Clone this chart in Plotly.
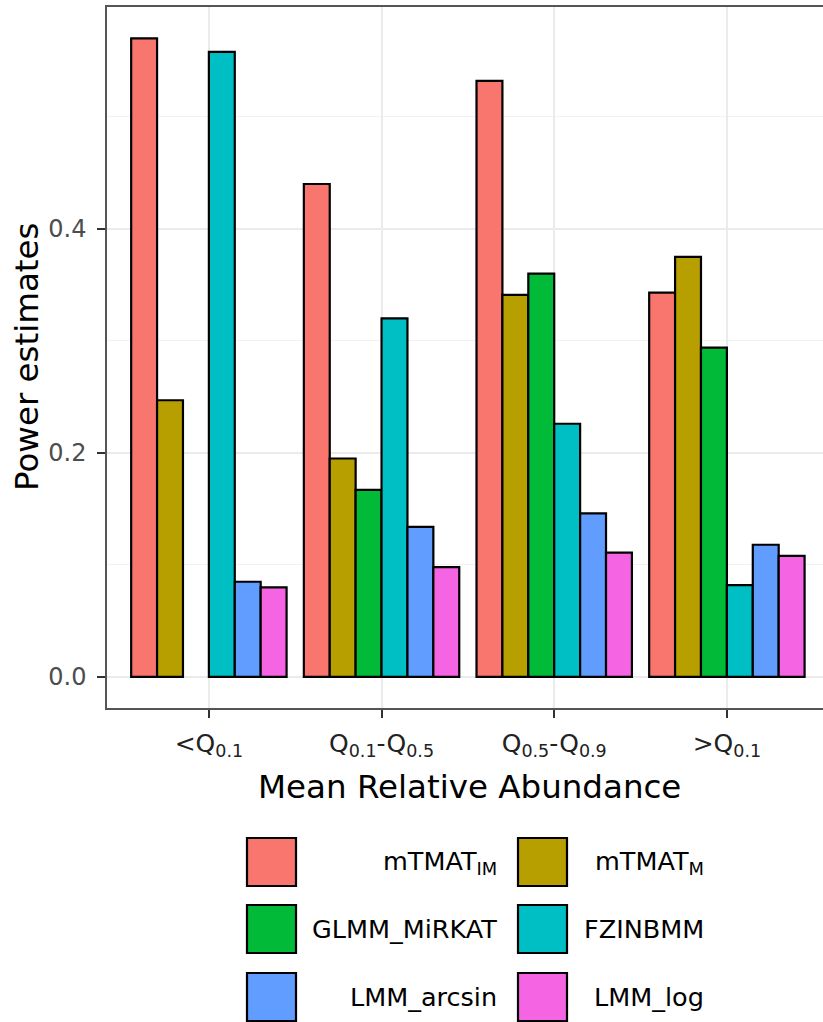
import plotly.graph_objects as go

W, H = 823, 1022

categories = ["<Q0.1", "Q0.1-Q0.5", "Q0.5-Q0.9", ">Q0.1"]
tick_labels = ["&lt;Q<sub>0.1</sub>", "Q<sub>0.1</sub>-Q<sub>0.5</sub>",
               "Q<sub>0.5</sub>-Q<sub>0.9</sub>", "&gt;Q<sub>0.1</sub>"]

series_names = ["mTMAT_IM", "mTMAT_M", "GLMM_MiRKAT", "FZINBMM", "LMM_arcsin", "LMM_log"]
series_labels = ["mTMAT<sub>IM</sub>", "mTMAT<sub>M</sub>", "GLMM_MiRKAT", "FZINBMM",
                 "LMM_arcsin", "LMM_log"]
colors = ["#F8766D", "#B79F00", "#00BA38", "#00BFC4", "#619CFF", "#F564E3"]

mTMAT_IM = [0.570, 0.440, 0.532, 0.343]
mTMAT_M = [0.247, 0.195, 0.341, 0.375]
GLMM_MiRKAT = [None, 0.167, 0.360, 0.294]
FZINBMM = [0.558, 0.320, 0.226, 0.082]
LMM_arcsin = [0.085, 0.134, 0.146, 0.118]
LMM_log = [0.080, 0.098, 0.111, 0.108]
values = [mTMAT_IM, mTMAT_M, GLMM_MiRKAT, FZINBMM, LMM_arcsin, LMM_log]

y_ticks = [0.0, 0.2, 0.4]
y_tick_text = ["0.0", "0.2", "0.4"]

def px(x):
    return x / W

def py(y):
    return 1 - y / H

fig = go.Figure()
xs = list(range(len(categories)))
for name, vals, col in zip(series_names, values, colors):
    fig.add_trace(go.Bar(
        x=xs, y=vals, name=name,
        marker=dict(color=col, line=dict(color="black", width=2.2)),
        showlegend=False,
    ))

FONT = "DejaVu Sans"
left, right, top, bottom = 107, 823, 7, 708
unit = 172.67
x0 = -0.59
x1 = x0 + (right - left) / unit

fig.update_layout(
    width=W, height=H,
    margin=dict(l=0, r=0, t=0, b=0),
    paper_bgcolor="white", plot_bgcolor="white",
    barmode="group", bargap=0.1, bargroupgap=0,
    font=dict(family=FONT),
    xaxis=dict(
        domain=[px(left), px(right)],
        range=[x0, x1],
        tickmode="array", tickvals=xs, ticktext=tick_labels,
        tickfont=dict(size=25, color="#222222", family=FONT),
        ticks="outside", ticklen=8, tickwidth=1.5, tickcolor="#333333",
        showgrid=True, gridcolor="#EBEBEB", gridwidth=1.5,
        showline=True, linecolor="#555555", linewidth=1.5, mirror=True,
        zeroline=False, ticklabelstandoff=4,
    ),
    yaxis=dict(
        domain=[py(bottom), py(top)],
        range=[-0.0277, 0.598],
        tickmode="array", tickvals=y_ticks, ticktext=y_tick_text,
        tickfont=dict(size=24, color="#4D4D4D", family=FONT),
        ticks="outside", ticklen=8, tickwidth=1.5, tickcolor="#333333",
        showgrid=True, gridcolor="#EBEBEB", gridwidth=1.5,
        minor=dict(tickvals=[0.1, 0.3, 0.5], showgrid=True, gridcolor="#F2F2F2",
                   gridwidth=1, ticks=""),
        showline=True, linecolor="#555555", linewidth=1.5,
        zeroline=False, ticklabelstandoff=6,
    ),
)

annotations = [
    dict(x=px(469), y=py(787), xref="paper", yref="paper", text="Mean Relative Abundance",
         showarrow=False, font=dict(size=32.5, color="black", family=FONT),
         xanchor="center", yanchor="middle"),
    dict(x=px(27), y=py(357), xref="paper", yref="paper", text="Power estimates",
         showarrow=False, font=dict(size=32.5, color="black", family=FONT), textangle=-90,
         xanchor="center", yanchor="middle"),
]

shapes = []
key_cols = [(247, 296, 499), (518, 567, 706)]
key_rows = [(838, 886), (905, 953), (973, 1021)]
for i, (lab, col) in enumerate(zip(series_labels, colors)):
    r, c = divmod(i, 2)
    kx0, kx1, tx = key_cols[c]
    ky0, ky1 = key_rows[r]
    shapes.append(dict(type="rect", xref="paper", yref="paper",
                       x0=px(kx0), x1=px(kx1), y0=py(ky1), y1=py(ky0),
                       fillcolor=col, line=dict(color="black", width=2.2)))
    annotations.append(dict(x=px(tx), y=py((ky0 + ky1) / 2), xref="paper", yref="paper",
                            text=lab, showarrow=False, xanchor="right", yanchor="middle",
                            font=dict(size=25.5, color="black", family=FONT)))

fig.update_layout(annotations=annotations, shapes=shapes)
fig.write_html("out.html")
